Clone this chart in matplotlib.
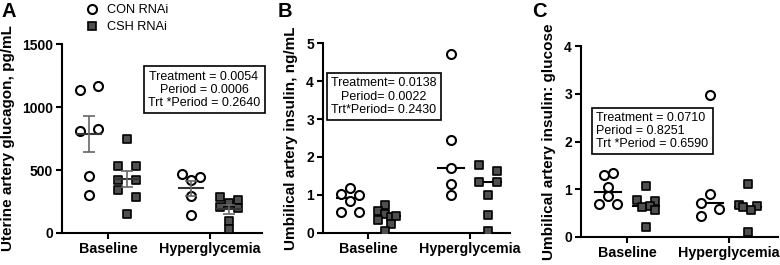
import numpy as np
import matplotlib
matplotlib.use("Agg")
import matplotlib.pyplot as plt
from matplotlib.lines import Line2D

plt.rcParams["font.family"] = ["Liberation Sans", "DejaVu Sans"]

# groups on the x axis
groups = ["Baseline", "Hyperglycemia"]
legend_labels = ["CON RNAi", "CSH RNAi"]

# Panel A - uterine artery glucagon (pg/mL), mean +/- SEM
glucagon_con_base = [1135, 1167, 812, 822, 455, 302]
glucagon_csh_base = [746, 529, 529, 423, 423, 338, 288, 148]
glucagon_con_hyper = [470, 447, 421, 295, 140]
glucagon_csh_hyper = [288, 264, 235, 203, 198, 98, 32]

# Panel B - umbilical artery insulin (ng/mL), median
insulin_con_base = [1.19, 1.03, 1.01, 0.84, 0.56, 0.56]
insulin_csh_base = [0.74, 0.58, 0.50, 0.43, 0.45, 0.34, 0.23, 0.04]
insulin_con_hyper = [4.71, 2.44, 1.72, 1.28, 1.00]
insulin_csh_hyper = [1.79, 1.64, 1.33, 1.33, 1.00, 0.47, 0.05]

# Panel C - umbilical artery insulin:glucose, median
ratio_con_base = [1.34, 1.29, 1.05, 0.85, 0.70, 0.70]
ratio_csh_base = [1.06, 0.77, 0.75, 0.64, 0.63, 0.57, 0.20]
ratio_con_hyper = [2.97, 0.91, 0.71, 0.59, 0.43]
ratio_csh_hyper = [1.10, 0.66, 0.64, 0.62, 0.56, 0.10]

# horizontal scatter of the dots (in dot widths)
jit_a = [[-1, 1, -1, 1, 0, 0], [0, -1, 1, -1, 1, -1, 1, 0],
         [-1, 1, 0, 0, 0], [-1, 1, 0, -1, 1, 0, 0]]
jit_b = [[0, -1, 1, 0, -1, 1], [-0.3, -1, -0.3, 0.4, 1, -1, 0.4, -0.3],
         [0, 0, 0, 0, 0], [-1, 1, -1, 1, 0, 0, 0]]
jit_c = [[0.5, -0.5, 0, 0, -1, 1], [0, -1, 1, 0.5, -0.4, 1, 0],
         [0, 0, -1, 1, -1], [0, -1, 1, -0.5, 0.3, 0]]

stats_a = "Treatment = 0.0054\nPeriod = 0.0006\nTrt *Period = 0.2640"
stats_b = "Treatment= 0.0138\nPeriod= 0.0022\nTrt*Period= 0.2430"
stats_c = "Treatment = 0.0710\nPeriod = 0.8251\nTrt *Period = 0.6590"

SUB = 0.185   # offset of CON / CSH from group centre
DX = 0.088    # one dot width
SQ_COLOR = "#4f4f4f"


def draw_panel(ax, series, jit, summary):
    xs_centre = [0 - SUB, 0 + SUB, 1 - SUB, 1 + SUB]
    for i, vals in enumerate(series):
        vals = np.array(vals, dtype=float)
        x = xs_centre[i] + DX * np.array(jit[i])
        if i % 2 == 0:
            ax.scatter(x, vals, s=42, marker="o", facecolor="white",
                       edgecolor="black", linewidths=1.5, zorder=3)
        else:
            ax.scatter(x, vals, s=36, marker="s", facecolor=SQ_COLOR,
                       edgecolor="black", linewidths=1.2, zorder=3)
        if summary == "mean":
            m = vals.mean()
            sem = vals.std(ddof=1) / np.sqrt(len(vals))
            ax.plot([xs_centre[i] - 0.115, xs_centre[i] + 0.115], [m, m],
                    color="#333333", lw=1.5, zorder=4)
            ax.errorbar(xs_centre[i], m, yerr=sem, color="#666666",
                        lw=1.2, capsize=4.5, capthick=1.2, zorder=4)
        else:
            m = np.median(vals)
            ax.plot([xs_centre[i] - 0.125, xs_centre[i] + 0.125], [m, m],
                    color="black", lw=1.5, zorder=2)

    ax.spines["top"].set_visible(False)
    ax.spines["right"].set_visible(False)
    ax.spines["left"].set_linewidth(1.5)
    ax.spines["bottom"].set_linewidth(1.5)
    ax.tick_params(width=1.5, length=4, labelsize=10, pad=2.5)
    ax.set_xticks([0, 1])
    ax.set_xticklabels(groups, fontweight="bold", fontsize=10.3)
    for lab in ax.get_yticklabels():
        lab.set_fontweight("bold")


fig = plt.figure(figsize=(7.8, 2.65), dpi=100)
W, H = 780, 265
axA = fig.add_axes([62 / W, (H - 233) / H, 200 / W, 189 / H])
axB = fig.add_axes([323 / W, (H - 233) / H, 187 / W, 190 / H])
axC = fig.add_axes([581 / W, (H - 237) / H, 197 / W, 191 / H])

draw_panel(axA, [glucagon_con_base, glucagon_csh_base,
                 glucagon_con_hyper, glucagon_csh_hyper], jit_a, "mean")
axA.set_ylim(0, 1500)
axA.set_yticks([0, 500, 1000, 1500])
axA.set_xlim(-0.45, 1.51)
axA.set_ylabel("Uterine artery glucagon, pg/mL", fontweight="bold",
               fontsize=11, labelpad=5)

draw_panel(axB, [insulin_con_base, insulin_csh_base,
                 insulin_con_hyper, insulin_csh_hyper], jit_b, "median")
axB.set_ylim(0, 5)
axB.set_yticks([0, 1, 2, 3, 4, 5])
axB.set_xlim(-0.45, 1.40)
axB.set_ylabel("Umbilical artery insulin, ng/mL", fontweight="bold",
               fontsize=11, labelpad=6)

draw_panel(axC, [ratio_con_base, ratio_csh_base,
                 ratio_con_hyper, ratio_csh_hyper], jit_c, "median")
axC.set_ylim(0, 4)
axC.set_yticks([0, 1, 2, 3, 4])
axC.set_xlim(-0.45, 1.48)
axC.set_ylabel("Umbilical artery insulin: glucose", fontweight="bold",
               fontsize=11, labelpad=6)

box = dict(boxstyle="square,pad=0.35", facecolor="white",
           edgecolor="black", linewidth=1.2)
axA.text(0.71, 0.757, stats_a, transform=axA.transAxes, ha="center",
         va="center", fontsize=9, linespacing=1.12, bbox=box, zorder=5)
axB.text(0.326, 0.718, stats_b, transform=axB.transAxes, ha="center",
         va="center", fontsize=9, linespacing=1.12, bbox=box, zorder=5)
axC.text(0.363, 0.555, stats_c, transform=axC.transAxes, ha="center",
         va="center", multialignment="left", fontsize=9,
         linespacing=1.12, bbox=box, zorder=5)

# panel letters
for x, letter in [(1, "A"), (278, "B"), (532, "C")]:
    fig.text(x / W, 1 - 2 / H, letter, fontsize=14.5, fontweight="bold",
             va="top", ha="left")

handles = [Line2D([], [], ls="none", marker="o", ms=6.5, mfc="white",
                  mec="black", mew=1.5),
           Line2D([], [], ls="none", marker="s", ms=6, mfc=SQ_COLOR,
                  mec="black", mew=1.2)]
fig.legend(handles, legend_labels, loc="upper left",
           bbox_to_anchor=(86 / W, 1 - 4 / H), frameon=False,
           fontsize=9.2, handlelength=1, handletextpad=0.65,
           labelspacing=0.4, borderpad=0, borderaxespad=0)

fig.savefig("out.png", dpi=100)
